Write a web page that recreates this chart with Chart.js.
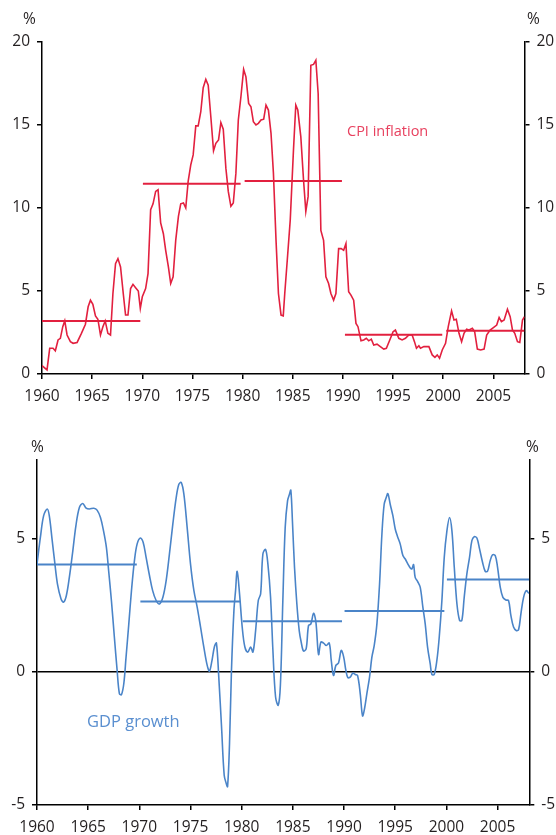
<!DOCTYPE html>
<html>
<head>
<meta charset="utf-8">
<script src="https://cdn.jsdelivr.net/npm/chart.js@4.4.1/dist/chart.umd.min.js"></script>
<style>
  body { margin: 0; background: #fff; width: 556px; height: 835px; position: relative; overflow: hidden; font-family: 'Open Sans', sans-serif; }
  .box { position: absolute; left: 0; width: 556px; height: 415px; }
  .lbl { position: absolute; line-height: 1; white-space: nowrap; }
  .pct { font-size: 15.5px; color: #231f20; }
</style>
</head>
<body>
<div class="box" style="top:0"><canvas id="cpiChart" width="556" height="415"></canvas></div>
<div class="box" style="top:420px"><canvas id="gdpChart" width="556" height="415"></canvas></div>

<div class="lbl pct" style="left:23px;top:11px">%</div>
<div class="lbl pct" style="left:527px;top:11px">%</div>
<div class="lbl pct" style="left:31px;top:439px">%</div>
<div class="lbl pct" style="left:526px;top:439px">%</div>
<div class="lbl" style="left:347px;top:124px;font-size:14.5px;color:#e8415f">CPI inflation</div>
<div class="lbl" style="left:87px;top:713px;font-size:16.5px;color:#5a8fd0">GDP growth</div>

<script>
// CPI 通胀（%）
const cpiDates = [
  1960.0, 1960.5, 1960.77, 1961.1, 1961.33, 1961.6, 1961.83, 1962.07, 1962.27, 1962.5,
  1962.83, 1963.1, 1963.5, 1963.93, 1964.33, 1964.6, 1964.83, 1965.07, 1965.33, 1965.57,
  1965.83, 1966.07, 1966.3, 1966.57, 1966.83, 1967.07, 1967.33, 1967.57, 1967.83, 1968.1,
  1968.33, 1968.57, 1968.83, 1969.07, 1969.33, 1969.6, 1969.8, 1970.0, 1970.33, 1970.57,
  1970.83, 1971.07, 1971.33, 1971.57, 1971.83, 1972.1, 1972.33, 1972.6, 1972.83, 1973.07,
  1973.33, 1973.6, 1973.83, 1974.1, 1974.33, 1974.57, 1974.83, 1975.07, 1975.33, 1975.57,
  1975.83, 1976.07, 1976.33, 1976.57, 1976.83, 1977.1, 1977.33, 1977.6, 1977.83, 1978.07,
  1978.33, 1978.57, 1978.83, 1979.07, 1979.33, 1979.57, 1979.83, 1980.1, 1980.33, 1980.6,
  1980.83, 1981.07, 1981.33, 1981.57, 1981.83, 1982.1, 1982.33, 1982.57, 1982.83, 1983.07,
  1983.33, 1983.57, 1983.83, 1984.05, 1984.2, 1984.45, 1984.75, 1985.07, 1985.3, 1985.5,
  1985.8, 1986.07, 1986.3, 1986.53, 1986.8, 1987.07, 1987.3, 1987.53, 1987.8, 1988.07,
  1988.3, 1988.57, 1988.8, 1989.07, 1989.3, 1989.57, 1989.83, 1990.07, 1990.3, 1990.57,
  1990.8, 1991.07, 1991.3, 1991.5, 1991.8, 1992.07, 1992.33, 1992.57, 1992.83, 1993.07,
  1993.4, 1993.73, 1994.07, 1994.33, 1994.67, 1995.0, 1995.23, 1995.57, 1995.9, 1996.23,
  1996.57, 1996.9, 1997.13, 1997.33, 1997.57, 1997.73, 1998.07, 1998.57, 1998.9, 1999.17,
  1999.4, 1999.63, 1999.9, 2000.23, 2000.5, 2000.83, 2001.07, 2001.3, 2001.57, 2001.83,
  2002.07, 2002.33, 2002.57, 2002.9, 2003.13, 2003.4, 2003.73, 2004.07, 2004.33, 2004.67,
  2005.0, 2005.33, 2005.57, 2005.8, 2006.07, 2006.4, 2006.67, 2006.9, 2007.13, 2007.4,
  2007.63, 2007.9, 2008.1
];
const cpiValues = [
  0.5, 0.25, 1.55, 1.55, 1.4, 2.05, 2.15, 2.85, 3.2, 2.35,
  1.95, 1.85, 1.9, 2.45, 3.0, 4.05, 4.45, 4.2, 3.5, 3.3,
  2.35, 2.85, 3.2, 2.45, 2.35, 4.85, 6.65, 6.95, 6.45, 4.85,
  3.55, 3.55, 5.15, 5.4, 5.2, 5.0, 3.95, 4.65, 5.15, 6.05,
  9.9, 10.25, 11.0, 11.1, 9.1, 8.45, 7.45, 6.45, 5.45, 5.85,
  8.05, 9.5, 10.25, 10.3, 10.0, 11.6, 12.6, 13.2, 14.95, 14.95,
  15.8, 17.25, 17.75, 17.4, 15.5, 13.45, 13.9, 14.1, 15.15, 14.75,
  12.4, 11.0, 10.1, 10.3, 12.1, 15.3, 16.7, 18.35, 17.9, 16.3,
  16.1, 15.2, 15.0, 15.1, 15.3, 15.35, 16.2, 15.9, 14.5, 12.1,
  8.05, 4.85, 3.55, 3.5, 4.85, 6.85, 9.3, 13.5, 16.2, 15.9,
  14.3, 11.7, 9.8, 10.7, 18.6, 18.65, 18.9, 16.9, 8.65, 8.05,
  5.85, 5.45, 4.85, 4.45, 4.85, 7.55, 7.55, 7.45, 7.85, 4.95,
  4.75, 4.45, 3.05, 2.85, 2.0, 2.05, 2.15, 2.0, 2.1, 1.75,
  1.8, 1.65, 1.5, 1.55, 2.05, 2.55, 2.65, 2.15, 2.05, 2.15,
  2.35, 2.35, 1.95, 1.55, 1.7, 1.55, 1.65, 1.65, 1.15, 1.0,
  1.15, 0.95, 1.45, 1.85, 2.85, 3.8, 3.25, 3.3, 2.45, 1.95,
  2.45, 2.7, 2.65, 2.75, 2.55, 1.5, 1.45, 1.5, 2.35, 2.65,
  2.8, 2.95, 3.4, 3.15, 3.25, 3.9, 3.45, 2.65, 2.45, 1.95,
  1.9, 3.25, 3.45
];
// 十年平均
const cpiAvgStarts = [1960, 1970.06, 1980.2, 1990.2, 2000.3];
const cpiAvgEnds = [1969.8, 1979.8, 1989.9, 1999.9, 2008.1];
const cpiAvgValues = [3.2, 11.46, 11.63, 2.37, 2.61];

// GDP 增长（%）
const gdpDates = [
  1960.0, 1960.33, 1960.65, 1961.0, 1961.2, 1961.47, 1961.73, 1962.0, 1962.35, 1962.6,
  1962.87, 1963.16, 1963.5, 1963.8, 1964.14, 1964.47, 1964.8, 1965.12, 1965.55, 1965.87,
  1966.2, 1966.5, 1966.78, 1967.0, 1967.27, 1967.56, 1967.83, 1968.05, 1968.25, 1968.48,
  1968.7, 1968.97, 1969.23, 1969.52, 1969.78, 1970.1, 1970.37, 1970.66, 1970.99, 1971.3,
  1971.64, 1971.97, 1972.3, 1972.62, 1972.94, 1973.27, 1973.6, 1973.86, 1974.09, 1974.35,
  1974.67, 1975.0, 1975.33, 1975.65, 1975.98, 1976.3, 1976.63, 1976.85, 1977.1, 1977.34,
  1977.53, 1977.76, 1978.03, 1978.29, 1978.49, 1978.62, 1978.81, 1979.0, 1979.24, 1979.4,
  1979.56, 1979.79, 1980.05, 1980.31, 1980.6, 1980.87, 1981.1, 1981.36, 1981.62, 1981.85,
  1982.07, 1982.33, 1982.56, 1982.82, 1983.05, 1983.31, 1983.57, 1983.78, 1984.02, 1984.25,
  1984.48, 1984.67, 1984.8, 1984.97, 1985.16, 1985.39, 1985.62, 1985.81, 1986.04, 1986.3,
  1986.53, 1986.76, 1987.02, 1987.25, 1987.51, 1987.74, 1988.0, 1988.26, 1988.55, 1988.75,
  1988.97, 1989.2, 1989.46, 1989.72, 1989.95, 1990.18, 1990.37, 1990.6, 1990.86, 1991.09,
  1991.32, 1991.58, 1991.81, 1992.0, 1992.23, 1992.49, 1992.72, 1992.95, 1993.21, 1993.47,
  1993.7, 1993.92, 1994.12, 1994.28, 1994.51, 1994.77, 1995.0, 1995.23, 1995.49, 1995.75,
  1995.98, 1996.24, 1996.47, 1996.63, 1996.79, 1996.95, 1997.18, 1997.44, 1997.7, 1997.93,
  1998.16, 1998.42, 1998.58, 1998.81, 1999.07, 1999.3, 1999.56, 1999.79, 2000.05, 2000.31,
  2000.54, 2000.77, 2001.03, 2001.29, 2001.51, 2001.74, 2002.0, 2002.26, 2002.49, 2002.72,
  2002.98, 2003.24, 2003.53, 2003.79, 2004.02, 2004.28, 2004.51, 2004.77, 2005.0, 2005.26,
  2005.52, 2005.81, 2006.07, 2006.3, 2006.56, 2006.82, 2007.05, 2007.28, 2007.54, 2007.8,
  2008.05
];
const gdpValues = [
  4.06, 5.06, 5.88, 6.13, 5.88, 5.0, 4.13, 3.31, 2.75, 2.63,
  2.88, 3.56, 4.56, 5.5, 6.19, 6.34, 6.16, 6.13, 6.16, 6.09,
  5.81, 5.31, 4.69, 3.81, 2.69, 1.31, 0.06, -0.81, -0.85, -0.44,
  0.56, 1.81, 3.06, 4.19, 4.81, 5.04, 4.88, 4.31, 3.63, 3.06,
  2.69, 2.56, 2.81, 3.44, 4.44, 5.56, 6.56, 7.06, 7.13, 6.69,
  5.44, 4.06, 3.06, 2.44, 1.69, 0.94, 0.25, 0.03, 0.44, 0.96,
  1.09, -0.19, -2.06, -3.88, -4.19, -4.31, -2.69, 0.06, 2.31, 3.06,
  3.79, 2.94, 1.69, 0.94, 0.75, 0.94, 0.75, 1.56, 2.69, 2.94,
  4.44, 4.61, 4.06, 2.81, 0.81, -0.94, -1.25, -0.5, 2.69, 5.44,
  6.44, 6.69, 6.84, 5.56, 3.94, 2.56, 1.56, 1.13, 0.79, 0.88,
  1.75, 1.81, 2.21, 1.88, 0.66, 1.13, 1.09, 1.0, 1.09, 0.44,
  -0.13, 0.25, 0.34, 0.81, 0.59, 0.06, -0.21, -0.19, -0.04, -0.09,
  -0.13, -0.81, -1.65, -1.38, -0.81, -0.19, 0.56, 1.0, 1.81, 3.31,
  5.19, 6.31, 6.56, 6.71, 6.31, 5.88, 5.38, 5.09, 4.81, 4.38,
  4.25, 4.06, 3.91, 3.88, 4.04, 3.56, 3.41, 3.19, 2.44, 1.81,
  0.94, 0.31, -0.09, -0.09, 0.44, 1.31, 2.69, 4.31, 5.31, 5.81,
  5.31, 3.94, 2.56, 1.94, 1.94, 2.81, 3.69, 4.31, 4.94, 5.09,
  5.04, 4.63, 4.13, 3.79, 3.79, 4.19, 4.41, 4.38, 3.94, 3.19,
  2.81, 2.71, 2.69, 2.13, 1.69, 1.56, 1.59, 2.19, 2.81, 3.06,
  2.96
];
const gdpAvgStarts = [1960, 1970.1, 1980.1, 1990.05, 2000.05];
const gdpAvgEnds = [1969.75, 1979.85, 1989.8, 1999.8, 2008.1];
const gdpAvgValues = [4.04, 2.65, 1.91, 2.3, 3.48];

// 刻度
const xTicks = [1960, 1965, 1970, 1975, 1980, 1985, 1990, 1995, 2000, 2005];
const cpiTicks = [0, 5, 10, 15, 20];
const gdpTicks = [-5, 0, 5];

const tickFont = { family: 'Open Sans', size: 15.5 };
const tickColor = '#231f20';

function toPoints(xs, ys) {
  return xs.map((x, i) => ({ x: x, y: ys[i] }));
}

function avgDatasets(starts, ends, values, color) {
  return values.map((v, i) => ({
    data: [{ x: starts[i], y: v }, { x: ends[i], y: v }],
    borderColor: color,
    borderWidth: 2,
    pointRadius: 0,
    tension: 0
  }));
}

function yScale(position, min, max, ticks, width, zeroLine) {
  return {
    type: 'linear',
    position: position,
    min: min,
    max: max,
    afterBuildTicks: s => { s.ticks = ticks.map(v => ({ value: v })); },
    afterFit: s => { s.width = width; },
    border: { display: true, color: '#000', width: 1.5 },
    grid: {
      drawOnChartArea: zeroLine,
      color: ctx => (ctx.tick && ctx.tick.value === 0) ? '#000' : 'rgba(0,0,0,0)',
      tickColor: '#000',
      lineWidth: 1.5,
      tickLength: 5
    },
    ticks: { color: tickColor, font: tickFont, padding: 7, callback: v => String(v) }
  };
}

function xScale(height) {
  return {
    type: 'linear',
    min: 1960,
    max: 2008.1,
    afterBuildTicks: s => { s.ticks = xTicks.map(v => ({ value: v })); },
    afterFit: s => { s.height = height; },
    border: { display: true, color: '#000', width: 1.5 },
    grid: { drawOnChartArea: false, tickColor: '#000', lineWidth: 1.5, tickLength: 5 },
    ticks: { color: tickColor, font: tickFont, padding: 8, maxRotation: 0, callback: v => String(v) }
  };
}

function makeChart(id, cfg) {
  const ctx = document.getElementById(id).getContext('2d');
  return new Chart(ctx, {
    type: 'line',
    data: {
      datasets: [{
        data: toPoints(cfg.dates, cfg.values),
        borderColor: cfg.color,
        borderWidth: 1.6,
        pointRadius: 0,
        tension: cfg.tension
      }].concat(avgDatasets(cfg.avgStarts, cfg.avgEnds, cfg.avgValues, cfg.color))
    },
    options: {
      responsive: false,
      animation: false,
      devicePixelRatio: 1,
      layout: { padding: { top: cfg.top, left: 0, right: 0, bottom: 0 } },
      plugins: { legend: { display: false }, tooltip: { enabled: false } },
      scales: {
        x: xScale(cfg.xHeight),
        y: yScale('left', cfg.min, cfg.max, cfg.ticks, cfg.leftW, cfg.zeroLine),
        y2: yScale('right', cfg.min, cfg.max, cfg.ticks, cfg.rightW, false)
      }
    }
  });
}

document.addEventListener('DOMContentLoaded', () => {
  // 上图：CPI 通胀
  makeChart('cpiChart', {
    dates: cpiDates, values: cpiValues,
    avgStarts: cpiAvgStarts, avgEnds: cpiAvgEnds, avgValues: cpiAvgValues,
    color: '#e2203f', tension: 0,
    min: 0, max: 20, ticks: cpiTicks,
    top: 42, xHeight: 41, leftW: 42, rightW: 31.5, zeroLine: false
  });

  // 下图：GDP 增长
  makeChart('gdpChart', {
    dates: gdpDates, values: gdpValues,
    avgStarts: gdpAvgStarts, avgEnds: gdpAvgEnds, avgValues: gdpAvgValues,
    color: '#4a84c8', tension: 0.35,
    min: -5, max: 8, ticks: gdpTicks,
    top: 39.3, xHeight: 30, leftW: 37, rightW: 26.7, zeroLine: true
  });
});
</script>
</body>
</html>
